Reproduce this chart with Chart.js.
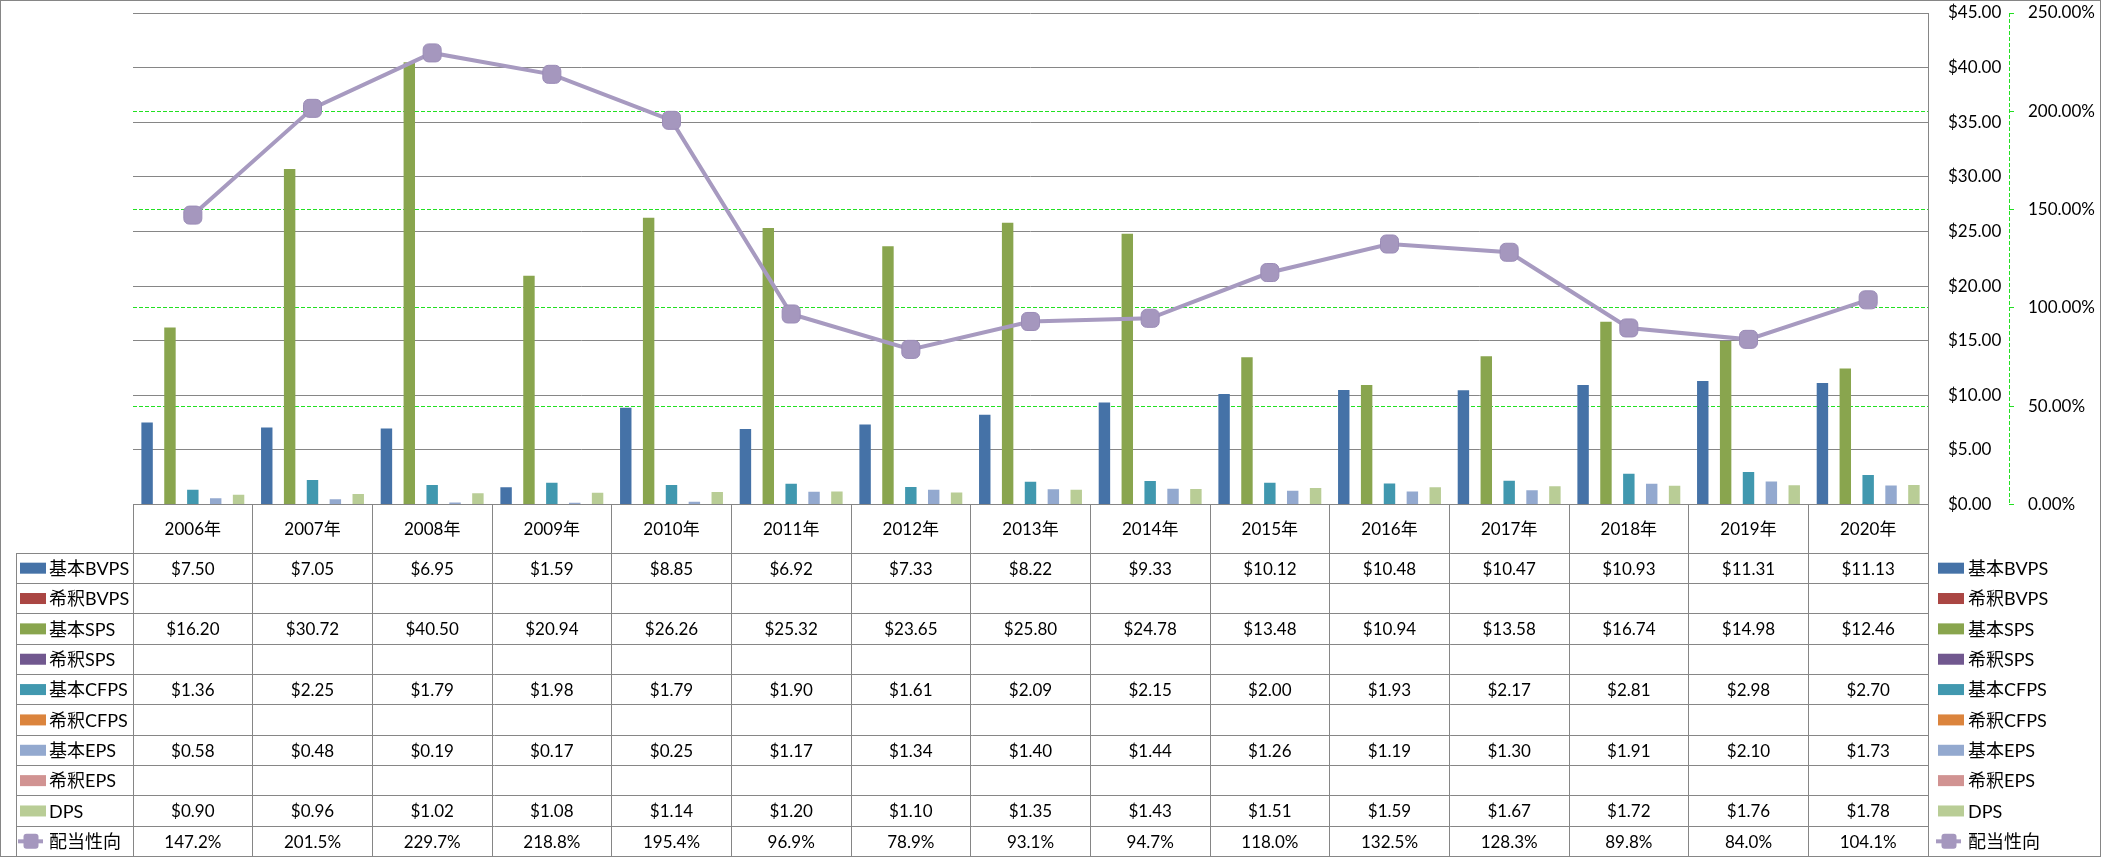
<!DOCTYPE html>
<html>
<head>
<meta charset="utf-8">
<script src="https://cdn.jsdelivr.net/npm/chart.js@4.4.1/dist/chart.umd.min.js"></script>
<style>
  html, body { margin: 0; padding: 0; background: #ffffff; }
</style>
</head>
<body>
<canvas id="grafico" width="2101" height="858"></canvas>
<script>
const anos = ['2006年', '2007年', '2008年', '2009年', '2010年', '2011年', '2012年', '2013年', '2014年', '2015年', '2016年', '2017年', '2018年', '2019年', '2020年'];
const basicoBVPS = [7.50, 7.05, 6.95, 1.59, 8.85, 6.92, 7.33, 8.22, 9.33, 10.12, 10.48, 10.47, 10.93, 11.31, 11.13];
const diluidoBVPS = [null, null, null, null, null, null, null, null, null, null, null, null, null, null, null];
const basicoSPS = [16.20, 30.72, 40.50, 20.94, 26.26, 25.32, 23.65, 25.80, 24.78, 13.48, 10.94, 13.58, 16.74, 14.98, 12.46];
const diluidoSPS = [null, null, null, null, null, null, null, null, null, null, null, null, null, null, null];
const basicoCFPS = [1.36, 2.25, 1.79, 1.98, 1.79, 1.90, 1.61, 2.09, 2.15, 2.00, 1.93, 2.17, 2.81, 2.98, 2.70];
const diluidoCFPS = [null, null, null, null, null, null, null, null, null, null, null, null, null, null, null];
const basicoEPS = [0.58, 0.48, 0.19, 0.17, 0.25, 1.17, 1.34, 1.40, 1.44, 1.26, 1.19, 1.30, 1.91, 2.10, 1.73];
const diluidoEPS = [null, null, null, null, null, null, null, null, null, null, null, null, null, null, null];
const dps = [0.90, 0.96, 1.02, 1.08, 1.14, 1.20, 1.10, 1.35, 1.43, 1.51, 1.59, 1.67, 1.72, 1.76, 1.78];
const payout = [147.2, 201.5, 229.7, 218.8, 195.4, 96.9, 78.9, 93.1, 94.7, 118.0, 132.5, 128.3, 89.8, 84.0, 104.1];

const ticksDolar = [0, 5, 10, 15, 20, 25, 30, 35, 40, 45];
const ticksPercent = [0, 50, 100, 150, 200, 250];

const fonte = "Lato, 'Noto Sans CJK JP', sans-serif";
const corGrade = '#868686';
const corVerde = '#22e022';
const corLinha = '#a79ac0';

function serieBarra(nome, valores, cor) {
    return {
        type: 'bar',
        label: nome,
        data: valores,
        backgroundColor: cor,
        borderWidth: 0,
        yAxisID: 'y',
        order: 1,
        categoryPercentage: 0.86,
        barPercentage: 1.0
    };
}

const series = [
    serieBarra('基本BVPS', basicoBVPS, '#4572a7'),
    serieBarra('希釈BVPS', diluidoBVPS, '#aa4643'),
    serieBarra('基本SPS', basicoSPS, '#89a54e'),
    serieBarra('希釈SPS', diluidoSPS, '#71588f'),
    serieBarra('基本CFPS', basicoCFPS, '#4198af'),
    serieBarra('希釈CFPS', diluidoCFPS, '#db843d'),
    serieBarra('基本EPS', basicoEPS, '#93a9cf'),
    serieBarra('希釈EPS', diluidoEPS, '#d19392'),
    serieBarra('DPS', dps, '#b9cd96'),
    {
        type: 'line',
        label: '配当性向',
        data: payout,
        yAxisID: 'y1',
        order: 0,
        borderColor: corLinha,
        borderWidth: 4,
        tension: 0,
        pointStyle: 'rectRounded',
        pointRadius: 10.5,
        pointBackgroundColor: '#a597be',
        pointBorderColor: '#9b8cb7',
        pointBorderWidth: 1
    }
];

// Desenha a tabela de dados, a legenda da direita e a borda externa
const pluginTabela = {
    id: 'tabela',
    afterDraw(chart) {
        const ctx = chart.ctx;
        const area = chart.chartArea;
        const escalaX = chart.scales.x;
        const escalaP = chart.scales.y1;
        const largCol = (area.right - area.left) / anos.length;
        const topoCab = area.bottom;
        const fimCab = 553;
        const base = 856.5;
        const altLinha = (base - fimCab) / series.length;
        const esq = 16.5;
        const nitido = v => Math.round(v - 0.5) + 0.5;

        ctx.save();

        // eixo percentual tracejado
        ctx.strokeStyle = corVerde;
        ctx.lineWidth = 1;
        ctx.setLineDash([4, 2]);
        ctx.beginPath();
        ctx.moveTo(nitido(escalaP.left), area.top);
        ctx.lineTo(nitido(escalaP.left), area.bottom);
        ctx.stroke();
        ctx.setLineDash([]);

        // linhas da tabela
        ctx.strokeStyle = corGrade;
        ctx.beginPath();
        ctx.moveTo(area.left, nitido(topoCab));
        ctx.lineTo(area.right, nitido(topoCab));
        for (let i = 0; i <= series.length; i++) {
            const y = nitido(fimCab + i * altLinha);
            ctx.moveTo(esq, y);
            ctx.lineTo(area.right, y);
        }
        for (let k = 0; k <= anos.length; k++) {
            const x = nitido(area.left + k * largCol);
            ctx.moveTo(x, topoCab);
            ctx.lineTo(x, base);
        }
        ctx.moveTo(esq, fimCab);
        ctx.lineTo(esq, base);
        ctx.stroke();

        // borda externa
        ctx.strokeRect(0.5, 0.5, 2100, 856);

        // textos
        ctx.fillStyle = '#000000';
        ctx.font = '17px ' + fonte;
        ctx.textAlign = 'center';
        ctx.textBaseline = 'middle';
        anos.forEach((ano, i) => {
            ctx.fillText(ano, escalaX.getPixelForValue(i), (topoCab + fimCab) / 2 + 1);
        });

        series.forEach((serie, r) => {
            const yc = fimCab + (r + 0.5) * altLinha + 1;
            ctx.font = '17px ' + fonte;
            ctx.textAlign = 'center';
            ctx.fillStyle = '#000000';
            serie.data.forEach((v, i) => {
                if (v === null) return;
                const txt = serie.type === 'line' ? v.toFixed(1) + '%' : '$' + v.toFixed(2);
                ctx.fillText(txt, escalaX.getPixelForValue(i), yc);
            });

            // chaves da legenda (esquerda e direita)
            ctx.font = '18px ' + fonte;
            [[20, 49], [1938, 1968]].forEach(([xk, xt]) => {
                if (serie.type === 'line') {
                    ctx.strokeStyle = corLinha;
                    ctx.lineWidth = 4;
                    ctx.beginPath();
                    ctx.moveTo(xk - 2, yc - 1);
                    ctx.lineTo(xk + 23, yc - 1);
                    ctx.stroke();
                    ctx.fillStyle = '#a597be';
                    ctx.beginPath();
                    ctx.roundRect(xk + 3.5, yc - 8.5, 15, 15, 3);
                    ctx.fill();
                } else {
                    ctx.fillStyle = serie.backgroundColor;
                    ctx.fillRect(xk, yc - 6.5, 26, 11);
                }
                ctx.fillStyle = '#000000';
                ctx.textAlign = 'left';
                ctx.fillText(serie.label, xt, yc);
            });
        });

        ctx.restore();
    }
};

function semPadding(largura) {
    return scale => {
        scale.width = largura;
        scale.paddingTop = 0;
        scale.paddingBottom = 0;
    };
}

const ctx = document.getElementById('grafico').getContext('2d');
const grafico = new Chart(ctx, {
    data: {
        labels: anos,
        datasets: series
    },
    options: {
        responsive: false,
        animation: false,
        devicePixelRatio: 1,
        layout: {
            padding: { left: 133, top: 13, right: 0, bottom: 353.5 }
        },
        plugins: {
            legend: { display: false },
            tooltip: { enabled: false }
        },
        scales: {
            x: {
                type: 'category',
                display: false
            },
            y: {
                position: 'right',
                min: 0,
                max: 45,
                afterBuildTicks: scale => { scale.ticks = ticksDolar.map(v => ({ value: v })); },
                afterFit: semPadding(81),
                ticks: {
                    padding: 20,
                    color: '#000000',
                    font: { family: fonte, size: 17 },
                    callback: v => '$' + Number(v).toFixed(2)
                },
                grid: { color: corGrade, lineWidth: 1, drawTicks: false },
                border: { display: true, color: corGrade, width: 1 }
            },
            y1: {
                position: 'right',
                min: 0,
                max: 250,
                afterBuildTicks: scale => { scale.ticks = ticksPercent.map(v => ({ value: v })); },
                afterFit: semPadding(92),
                ticks: {
                    padding: 14,
                    color: '#000000',
                    font: { family: fonte, size: 17 },
                    callback: v => Number(v).toFixed(2) + '%'
                },
                grid: {
                    color: c => (c.tick && (c.tick.value === 0 || c.tick.value === 250)) ? 'rgba(0,0,0,0)' : corVerde,
                    lineWidth: 1,
                    tickLength: 5,
                    tickColor: corVerde
                },
                border: { display: false, dash: [4, 2] }
            }
        }
    },
    plugins: [pluginTabela]
});
</script>
</body>
</html>
